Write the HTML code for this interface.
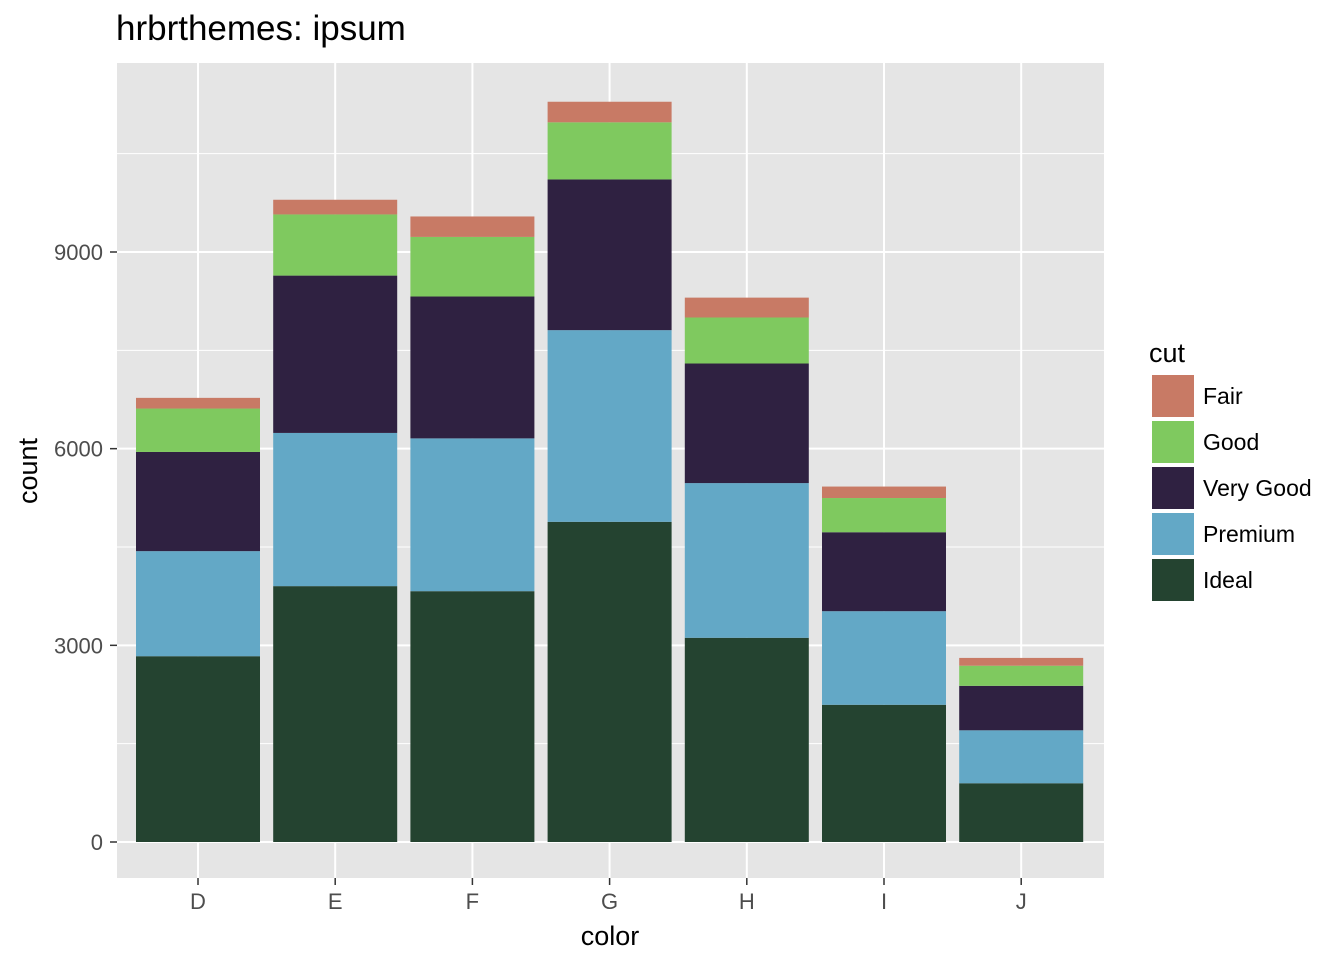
<!DOCTYPE html>
<html><head><meta charset="utf-8"><style>
body{margin:0;background:#fff;font-family:"Liberation Sans",Arial,sans-serif;}
svg text{font-family:"Liberation Sans",Arial,sans-serif;}
</style></head><body>
<svg id="chart" width="1344" height="960">
<text x="116" y="40" font-size="35" fill="#000">hrbrthemes: ipsum</text>
<rect x="117" y="63" width="987" height="815" fill="#e5e5e5"/>
<g id="grid"></g><g id="bars"></g><g id="axes"></g><g id="legend"></g>
<text x="610" y="945" font-size="27" text-anchor="middle">color</text>
<text transform="translate(37,471) rotate(-90)" font-size="27" text-anchor="middle">count</text>
</svg>
<script>
const categories=["D","E","F","G","H","I","J"];
const cuts=["Fair","Good","Very Good","Premium","Ideal"];
const colors=["#c87a65","#7fc95f","#2f2141","#63a8c6","#244330"];
const fair=[163,224,312,314,303,175,119];
const good=[662,933,909,871,702,522,307];
const veryGood=[1513,2400,2164,2299,1824,1204,678];
const premium=[1603,2337,2331,2924,2360,1428,808];
const ideal=[2834,3903,3826,4884,3115,2093,896];
const yTicks=[0,3000,6000,9000];
const yMinor=[1500,4500,7500,10500];
const NS="http://www.w3.org/2000/svg";
function el(t,a,p){const e=document.createElementNS(NS,t);for(const k in a)e.setAttribute(k,a[k]);p.appendChild(e);return e;}
const y=v=>842-v*590/9000;
const x=i=>198+i*137.2;
const bw=124;
const grid=document.getElementById('grid'),bars=document.getElementById('bars'),axes=document.getElementById('axes'),leg=document.getElementById('legend');
yMinor.forEach(v=>{const l=el('line',{x1:117,x2:1104,y1:y(v),y2:y(v),stroke:'#fff','stroke-width':1},grid);

});
yTicks.forEach(v=>{const l=el('line',{x1:117,x2:1104,y1:y(v),y2:y(v),stroke:'#fff','stroke-width':2},grid);


const t=el('line',{x1:110,x2:117,y1:y(v),y2:y(v),stroke:'#333','stroke-width':1.5},axes);


const tx=el('text',{x:103,y:y(v)+8,'font-size':22,'text-anchor':'end',fill:'#4d4d4d'},axes);tx.textContent=v;

});
categories.forEach((c,i)=>{const l=el('line',{x1:x(i),x2:x(i),y1:63,y2:878,stroke:'#fff','stroke-width':2},grid);


const t=el('line',{x1:x(i),x2:x(i),y1:878,y2:885,stroke:'#333','stroke-width':1.5},axes);


const tx=el('text',{x:x(i),y:909,'font-size':22,'text-anchor':'middle',fill:'#4d4d4d'},axes);tx.textContent=c;

});
const series=[ideal,premium,veryGood,good,fair];
const sColors=[colors[4],colors[3],colors[2],colors[1],colors[0]];
const sNames=["ideal","premium","very-good","good","fair"];
categories.forEach((c,i)=>{let base=0;series.forEach((s,j)=>{const top=base+s[i];
const r=el('rect',{x:x(i)-bw/2,y:y(top),width:bw,height:y(base)-y(top),fill:sColors[j]},bars);


base=top;});});
const lt=el('text',{x:1149,y:362,'font-size':27},leg);lt.textContent='cut';


cuts.forEach((c,k)=>{const yy=375+k*46;
const r=el('rect',{x:1152,y:yy,width:42,height:42,fill:colors[k]},leg);


const t=el('text',{x:1203,y:yy+29,'font-size':23},leg);t.textContent=c;

});
</script>
</body></html>
